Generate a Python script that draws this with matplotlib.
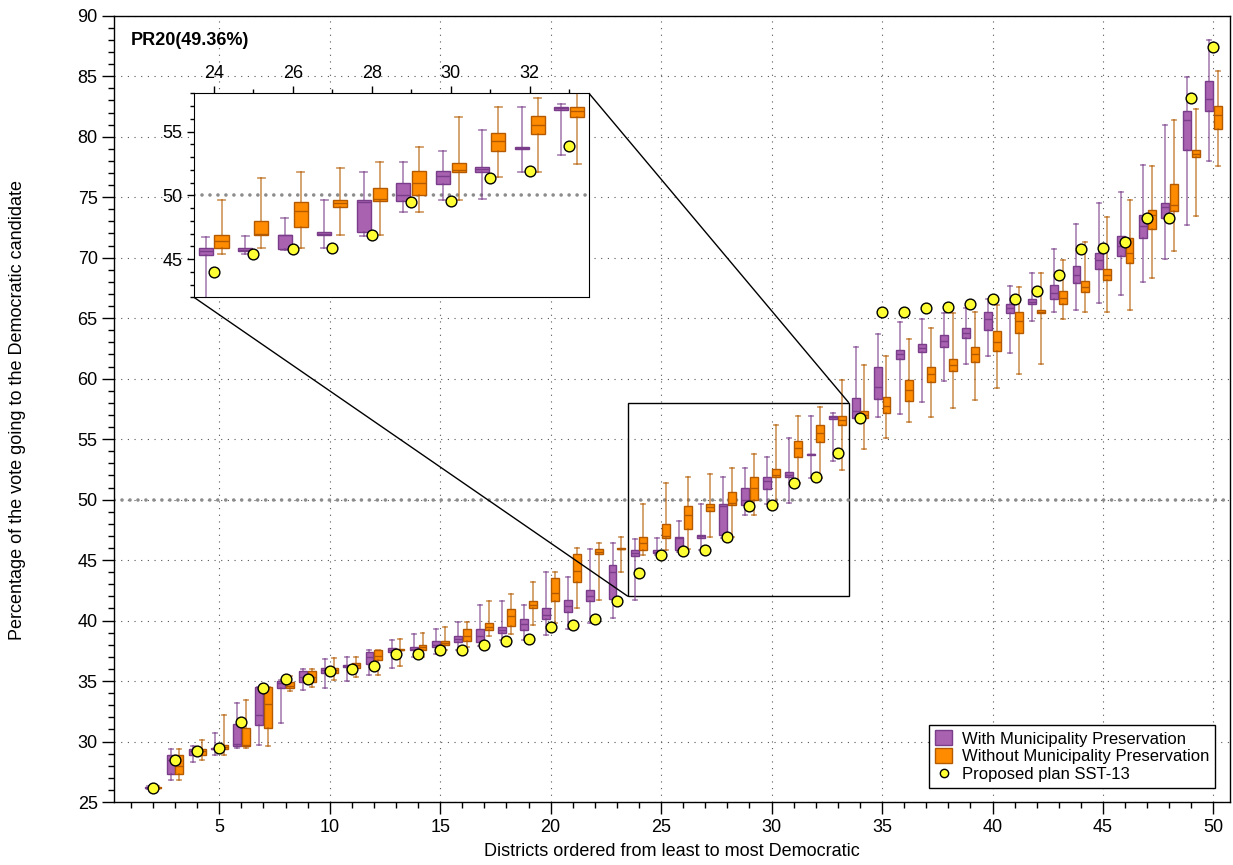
import numpy as np
import matplotlib
matplotlib.use("Agg")
import matplotlib.pyplot as plt
from matplotlib.patches import Patch
from matplotlib.lines import Line2D
from matplotlib.ticker import MultipleLocator
from mpl_toolkits.axes_grid1.inset_locator import mark_inset

plt.rcParams['font.family'] = ['Liberation Sans', 'DejaVu Sans']

# districts ordered from least to most Democratic (district 1 falls below the axis)
districts = list(range(2, 51))

# with municipality preservation: whisker low, q1, median, q3, whisker high
with_lo = [26.1, 26.8, 28.3, 28.9, 29.5, 29.7, 31.5, 34.3, 34.45, 35.0, 35.5, 36.1, 37.0, 37.2, 37.6, 37.9,
           38.4, 38.4, 38.8, 39.3, 39.8, 40.2, 41.7, 45.4, 45.7, 45.85, 46.8, 48.7, 49.6, 49.7, 51.8, 53.2,
           56.75, 56.85, 57.1, 58.1, 59.8, 61.2, 61.85, 62.1, 64.8, 65.5, 65.65, 66.25, 66.9, 68.0, 69.85, 72.7, 78.0]
with_q1 = [26.15, 27.3, 28.9, 29.35, 29.65, 31.4, 34.45, 34.9, 35.7, 36.2, 36.4, 37.4, 37.55, 37.8, 38.25, 38.25,
           39.0, 39.25, 40.1, 40.7, 41.65, 41.8, 45.35, 45.6, 45.8, 46.85, 47.1, 49.55, 50.85, 51.85, 53.65, 56.7,
           56.75, 58.3, 61.6, 62.2, 62.6, 63.4, 64.0, 65.45, 66.15, 66.55, 67.9, 69.1, 70.15, 71.6, 73.3, 78.9, 82.1]
with_med = [26.2, 28.5, 29.2, 29.4, 29.8, 32.2, 34.8, 35.3, 35.9, 36.25, 37.0, 37.55, 37.65, 38.0, 38.5, 38.7,
            39.2, 39.7, 40.5, 41.2, 42.0, 44.0, 45.6, 45.7, 46.85, 47.0, 49.5, 50.0, 51.5, 52.05, 53.75, 56.85,
            57.3, 59.3, 62.0, 62.55, 63.1, 63.8, 64.9, 65.8, 66.35, 67.1, 68.6, 69.8, 71.0, 72.6, 74.15, 81.35, 83.1]
with_q3 = [26.25, 28.9, 29.4, 29.45, 31.45, 34.5, 35.0, 35.8, 36.1, 36.3, 37.4, 37.7, 37.8, 38.3, 38.7, 39.3,
           39.45, 40.1, 41.0, 41.7, 42.5, 44.6, 45.85, 45.85, 46.9, 47.1, 49.6, 51.0, 51.9, 52.25, 53.8, 56.95,
           58.4, 61.0, 62.35, 62.9, 63.6, 64.15, 65.5, 66.15, 66.55, 67.75, 69.3, 70.4, 71.8, 73.5, 74.5, 82.1, 84.6]
with_hi = [26.3, 29.4, 29.6, 30.7, 33.2, 34.5, 35.1, 36.0, 36.8, 37.0, 37.6, 38.4, 38.9, 39.3, 39.9, 41.3,
           41.6, 41.3, 44.0, 43.6, 45.9, 46.45, 46.75, 46.8, 48.25, 49.6, 51.85, 52.6, 53.5, 55.1, 56.95, 57.2,
           62.6, 63.65, 64.7, 64.95, 65.45, 65.8, 66.55, 67.65, 68.7, 70.7, 72.8, 74.5, 75.4, 77.7, 81.0, 84.9, 88.0]

# without municipality preservation
wo_lo = [26.1, 26.8, 28.5, 28.9, 29.5, 29.6, 34.2, 34.5, 35.1, 35.3, 35.5, 36.25, 37.0, 37.6, 37.8, 38.7,
         38.9, 39.6, 39.8, 41.0, 41.7, 44.0, 45.4, 45.85, 45.9, 46.9, 46.9, 48.7, 49.6, 51.4, 51.8, 52.45,
         54.2, 55.1, 56.4, 56.85, 57.6, 58.2, 59.25, 60.35, 61.25, 64.9, 65.5, 65.5, 65.65, 68.35, 70.55, 73.45, 77.55]
wo_q1 = [26.15, 27.3, 28.9, 29.4, 29.6, 31.1, 34.45, 34.9, 35.7, 36.1, 36.7, 37.55, 37.6, 38.0, 38.3, 39.25,
         39.55, 41.0, 41.6, 43.2, 45.5, 45.9, 45.85, 46.85, 47.55, 49.05, 49.55, 50.0, 51.85, 53.5, 54.8, 56.15,
         56.75, 57.15, 58.15, 59.7, 60.6, 61.35, 62.25, 63.75, 65.45, 66.2, 67.15, 68.15, 69.6, 72.35, 73.85, 78.3, 80.6]
wo_med = [26.2, 28.0, 29.2, 29.55, 29.7, 33.1, 34.6, 35.3, 35.9, 36.3, 37.1, 37.6, 37.8, 38.15, 38.7, 39.5,
          40.4, 41.3, 42.3, 44.1, 45.7, 45.95, 46.4, 47.0, 48.75, 49.4, 49.7, 51.0, 52.0, 54.25, 55.5, 56.6,
          57.0, 57.7, 59.05, 60.35, 61.15, 62.0, 63.05, 64.75, 65.55, 66.7, 67.6, 68.55, 70.4, 73.55, 74.35, 78.6, 81.8]
wo_q3 = [26.25, 28.9, 29.4, 29.7, 31.1, 34.5, 34.9, 35.8, 36.1, 36.5, 37.55, 37.65, 38.0, 38.3, 39.3, 39.8,
         40.95, 41.6, 43.55, 45.5, 45.9, 46.0, 46.9, 47.95, 49.45, 49.6, 50.6, 51.9, 52.5, 54.85, 56.2, 56.95,
         57.3, 58.45, 59.9, 61.0, 61.65, 62.6, 63.95, 65.5, 65.65, 67.25, 68.05, 69.05, 71.6, 73.9, 76.05, 78.9, 82.5]
wo_hi = [26.3, 29.4, 30.1, 32.2, 33.4, 34.5, 35.4, 36.0, 36.9, 37.0, 37.6, 38.45, 39.0, 39.45, 39.9, 41.6,
         42.2, 43.2, 44.0, 46.0, 46.45, 46.9, 49.6, 51.35, 51.85, 52.15, 52.6, 53.8, 56.15, 56.95, 57.65, 59.9,
         61.15, 61.85, 63.25, 64.2, 65.45, 65.5, 66.05, 67.6, 68.75, 69.8, 71.3, 73.35, 74.8, 77.55, 81.35, 82.25, 85.4]

# proposed plan SST-13
plan = [26.2, 28.5, 29.2, 29.45, 31.6, 34.45, 35.2, 35.2, 35.85, 36.0, 36.25, 37.2, 37.25, 37.6, 37.6, 38.0,
        38.3, 38.5, 39.5, 39.6, 40.1, 41.65, 43.95, 45.4, 45.75, 45.85, 46.9, 49.45, 49.55, 51.35, 51.9, 53.85,
        56.75, 65.5, 65.55, 65.85, 65.95, 66.15, 66.6, 66.6, 67.25, 68.55, 70.75, 70.8, 71.3, 73.3, 73.3, 83.2, 87.4]

purple = '#a862b0'
purple_edge = '#7a3d8a'
orange = '#ff8c00'
orange_edge = '#b35a00'


def stats(lo, q1, med, q3, hi):
    return [dict(whislo=a, q1=b, med=c, q3=d, whishi=e, fliers=[])
            for a, b, c, d, e in zip(lo, q1, med, q3, hi)]


def draw(axis):
    pos = np.array(districts, dtype=float)
    for st, off, fc, ec in [(stats(with_lo, with_q1, with_med, with_q3, with_hi), -0.2, purple, purple_edge),
                            (stats(wo_lo, wo_q1, wo_med, wo_q3, wo_hi), 0.2, orange, orange_edge)]:
        axis.bxp(st, positions=pos + off, widths=0.36, patch_artist=True, manage_ticks=False,
                 showfliers=False, capwidths=0.18,
                 boxprops=dict(facecolor=fc, edgecolor=ec, linewidth=1.0),
                 medianprops=dict(color=ec, linewidth=1.0),
                 whiskerprops=dict(color=ec, linewidth=1.3, alpha=0.6),
                 capprops=dict(color=ec, linewidth=1.3, alpha=0.6))
    axis.scatter(districts, plan, s=60, facecolor='#ffff33', edgecolor='black', linewidth=1.0, zorder=5)
    axis.axhline(50, color='#8c8c8c', lw=2.6, linestyle=(0, (0.01, 2.2)), dash_capstyle='round', zorder=1.5)


fig = plt.figure(figsize=(12.33, 8.65), dpi=100)
ax = fig.add_axes([0.0927, 0.0728, 0.9049, 0.9090])
draw(ax)
ax.set_xlim(0.25, 50.75)
ax.set_ylim(25, 90)
ax.xaxis.set_major_locator(MultipleLocator(5))
ax.xaxis.set_minor_locator(MultipleLocator(1))
ax.yaxis.set_major_locator(MultipleLocator(5))
ax.yaxis.set_minor_locator(MultipleLocator(1))
ax.tick_params(which='major', direction='out', length=8.5, width=1, labelsize=13)
ax.tick_params(which='minor', direction='out', length=4.5, width=1)
ax.grid(True, which='major', linestyle=(0, (1, 5)), color='#555555', linewidth=0.8, zorder=0)
ax.set_axisbelow(True)
for s in ax.spines.values():
    s.set_linewidth(1.0)

ax.text(0.015, 0.969, 'PR20(49.36%)', transform=ax.transAxes, fontsize=13, fontweight='bold',
        ha='left', va='center')

handles = [Patch(facecolor=purple, edgecolor=purple_edge, label='With Municipality Preservation'),
           Patch(facecolor=orange, edgecolor=orange_edge, label='Without Municipality Preservation'),
           Line2D([], [], marker='o', linestyle='none', markersize=6, markerfacecolor='#ffff33',
                  markeredgecolor='black', label='Proposed plan SST-13')]
leg = ax.legend(handles=handles, loc='lower right', bbox_to_anchor=(0.9866, 0.0178), borderaxespad=0,
                fontsize=12, frameon=True, fancybox=False, edgecolor='black', framealpha=1,
                handlelength=1.0, handleheight=1.0, labelspacing=0.1, handletextpad=0.6, borderpad=0.35)
leg.get_frame().set_linewidth(1.0)

fig.text(672 / 1233, 1 - 852 / 865, 'Districts ordered from least to most Democratic', fontsize=13,
         ha='center', va='center')
fig.text(18 / 1233, 1 - 410 / 865, 'Percentage of the vote going to the Democratic candidate', fontsize=13,
         rotation=90, ha='center', va='center')

# zoomed inset of the competitive districts
axins = fig.add_axes([0.1573, 0.6563, 0.3204, 0.2358])
draw(axins)
axins.set_xlim(23.5, 33.5)
axins.set_ylim(42, 58)
axins.xaxis.set_major_locator(MultipleLocator(2))
axins.xaxis.set_minor_locator(MultipleLocator(1))
axins.yaxis.set_major_locator(MultipleLocator(5))
axins.yaxis.set_minor_locator(MultipleLocator(1))
axins.xaxis.tick_top()
axins.tick_params(axis='x', which='both', top=True, bottom=False, labeltop=True, labelbottom=False)
axins.tick_params(axis='y', which='both', left=True, right=False)
axins.tick_params(which='major', direction='out', length=5, width=1, labelsize=13)
axins.tick_params(which='minor', direction='out', length=3, width=1)
axins.set_facecolor('white')
mark_inset(ax, axins, loc1=3, loc2=1, fc='none', ec='black', lw=1)

fig.savefig('out.png', dpi=100)
